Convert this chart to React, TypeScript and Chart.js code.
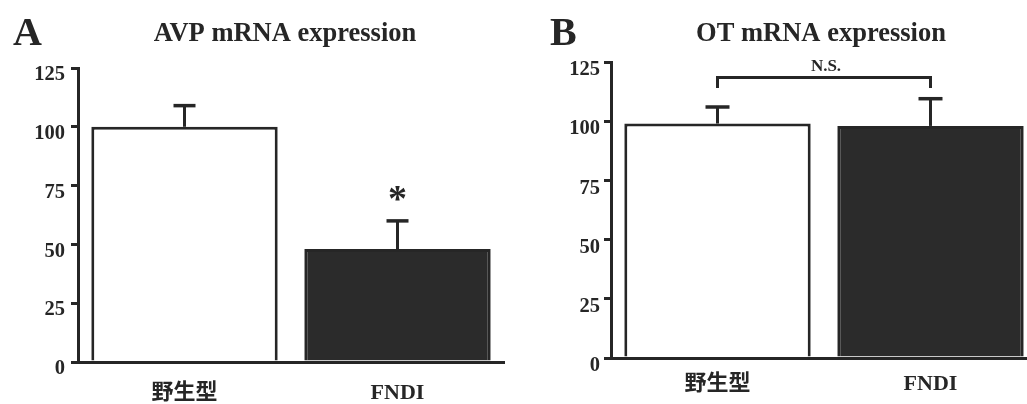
import React, { useEffect, useRef } from "react";
import { Chart, registerables } from "chart.js";

Chart.register(...registerables);

const categories = ["野生型", "FNDI"];
const avpValues = [100, 48];
const avpErrors = [9, 12];
const otValues = [99, 98];
const otErrors = [7, 11.5];
const yTicks = [0, 25, 50, 75, 100, 125];
const avpStarValue = 72;
const otBracketTop = 118.5;
const otBracketLeg = 114;
const otNsValue = 123;

const SERIF = '"Liberation Serif", "Times New Roman", "Noto Sans CJK JP", serif';
const INK = "#262626";

type PanelOpts = {
  letter: string;
  letterX: number;
  title: string;
  titleX: number;
  values: number[];
  errors: number[];
  yWidth: number;
  xHeight: number;
  padTop: number;
  padRight: number;
  labelPad: number;
  labelOffset: number;
  tickPad: number;
  capHalf: number;
  annotate: (chart: any) => void;
};

function makeChart(canvas: HTMLCanvasElement, o: PanelOpts) {
  const textPlugin = {
    id: "panelText",
    afterDraw(chart: any) {
      const ctx = chart.ctx;
      ctx.save();
      ctx.fillStyle = INK;
      ctx.textBaseline = "alphabetic";
      ctx.textAlign = "left";
      ctx.font = `bold 40px ${SERIF}`;
      ctx.fillText(o.letter, o.letterX, 45);
      ctx.textAlign = "center";
      ctx.font = `bold 26.5px ${SERIF}`;
      ctx.fillText(o.title, o.titleX, 41);
      ctx.restore();
      o.annotate(chart);
    },
  };
  const errorPlugin = {
    id: "errorBars",
    afterDatasetsDraw(chart: any) {
      const ctx = chart.ctx;
      const meta = chart.getDatasetMeta(0);
      const y = chart.scales.y;
      ctx.save();
      ctx.strokeStyle = INK;
      ctx.lineCap = "butt";
      meta.data.forEach((bar: any, i: number) => {
        const top = y.getPixelForValue(o.values[i] + o.errors[i]);
        const base = y.getPixelForValue(o.values[i]);
        ctx.lineWidth = 3;
        ctx.beginPath();
        ctx.moveTo(bar.x, base);
        ctx.lineTo(bar.x, top);
        ctx.stroke();
        ctx.lineWidth = 3.5;
        ctx.beginPath();
        ctx.moveTo(bar.x - o.capHalf, top);
        ctx.lineTo(bar.x + o.capHalf, top);
        ctx.stroke();
      });
      ctx.restore();
    },
  };
  return new Chart(canvas, {
    type: "bar",
    data: {
      labels: categories,
      datasets: [
        {
          data: o.values,
          backgroundColor: ["#ffffff", "#2b2b2b"],
          borderColor: INK,
          borderWidth: 3,
          borderSkipped: "bottom",
          barPercentage: 0.875,
          categoryPercentage: 1,
        },
      ],
    },
    options: {
      responsive: false,
      animation: false,
      devicePixelRatio: 1,
      layout: { padding: { top: o.padTop, right: o.padRight, left: 0, bottom: 0 } },
      plugins: { legend: { display: false }, title: { display: false }, tooltip: { enabled: false } },
      scales: {
        x: {
          offset: true,
          grid: { display: false },
          border: { display: true, color: INK, width: 3 },
          ticks: {
            color: INK,
            padding: o.labelPad,
            font: { family: SERIF, size: 22, weight: "bold" },
          },
          afterFit: (s: any) => {
            s.height = o.xHeight;
          },
        },
        y: {
          min: 0,
          max: 125,
          afterBuildTicks: (s: any) => {
            s.ticks = yTicks.map((v) => ({ value: v }));
          },
          grid: {
            drawOnChartArea: false,
            drawTicks: true,
            tickLength: 7,
            color: INK,
            lineWidth: 3,
          },
          border: { display: true, color: INK, width: 3 },
          ticks: {
            color: INK,
            padding: o.tickPad,
            labelOffset: o.labelOffset,
            font: { family: SERIF, size: 20.5, weight: "bold" },
          },
          afterFit: (s: any) => {
            s.width = o.yWidth;
          },
        },
      },
    },
    plugins: [errorPlugin, textPlugin],
  });
}

export default function App() {
  const aRef = useRef<HTMLCanvasElement>(null);
  const bRef = useRef<HTMLCanvasElement>(null);
  useEffect(() => {
    const a = makeChart(aRef.current!, {
      letter: "A",
      letterX: 13,
      title: "AVP mRNA expression",
      titleX: 285,
      values: avpValues,
      errors: avpErrors,
      yWidth: 78,
      xHeight: 42,
      padTop: 68,
      padRight: 16,
      labelPad: 10,
      labelOffset: 7,
      tickPad: 6,
      capHalf: 11,
      annotate: (chart: any) => {
        const ctx = chart.ctx;
        const x = chart.getDatasetMeta(0).data[1].x;
        const y = chart.scales.y.getPixelForValue(avpStarValue);
        ctx.save();
        ctx.fillStyle = INK;
        ctx.textAlign = "center";
        ctx.textBaseline = "alphabetic";
        ctx.font = `bold 38px ${SERIF}`;
        ctx.fillText("*", x, y + 18);
        ctx.restore();
      },
    });
    const b = makeChart(bRef.current!, {
      letter: "B",
      letterX: 30,
      title: "OT mRNA expression",
      titleX: 301,
      values: otValues,
      errors: otErrors,
      yWidth: 91,
      xHeight: 46,
      padTop: 62,
      padRight: 23,
      labelPad: 5,
      labelOffset: 8,
      tickPad: 4,
      capHalf: 12,
      annotate: (chart: any) => {
        const ctx = chart.ctx;
        const data = chart.getDatasetMeta(0).data;
        const y = chart.scales.y;
        const x0 = data[0].x;
        const x1 = data[1].x;
        const yt = y.getPixelForValue(otBracketTop);
        const yl = y.getPixelForValue(otBracketLeg);
        ctx.save();
        ctx.strokeStyle = INK;
        ctx.lineWidth = 3;
        ctx.beginPath();
        ctx.moveTo(x0, yl);
        ctx.lineTo(x0, yt);
        ctx.lineTo(x1, yt);
        ctx.lineTo(x1, yl);
        ctx.stroke();
        ctx.fillStyle = INK;
        ctx.textAlign = "center";
        ctx.textBaseline = "middle";
        ctx.font = `bold 17px ${SERIF}`;
        ctx.fillText("N.S.", (x0 + x1) / 2 + 2, y.getPixelForValue(otNsValue));
        ctx.restore();
      },
    });
    return () => {
      a.destroy();
      b.destroy();
    };
  }, []);
  return (
    <div
      style={{
        position: "fixed",
        left: 0,
        top: 0,
        width: 1027,
        height: 404,
        overflow: "hidden",
        background: "#ffffff",
      }}
    >
      <canvas ref={aRef} width={520} height={404} style={{ position: "absolute", left: 0, top: 0 }} />
      <canvas ref={bRef} width={540} height={404} style={{ position: "absolute", left: 520, top: 0 }} />
    </div>
  );
}
